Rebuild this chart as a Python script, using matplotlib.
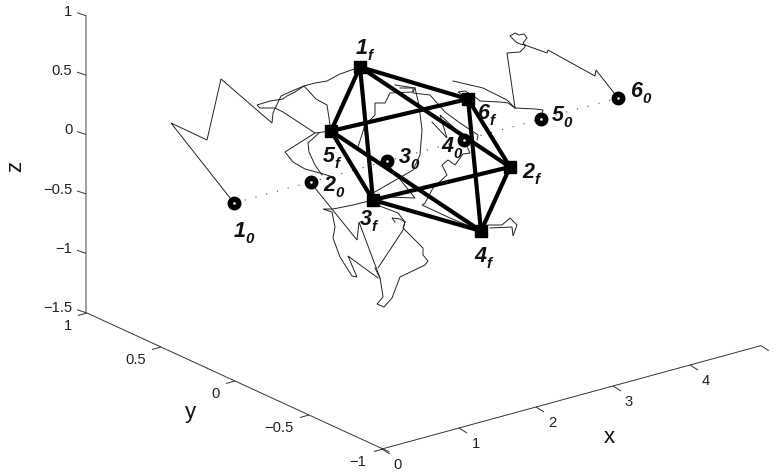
import matplotlib
matplotlib.use("Agg")
import matplotlib.pyplot as plt
import matplotlib._mathtext as _mt

plt.rcParams["mathtext.fontset"] = "custom"
plt.rcParams["mathtext.bfit"] = "Liberation Sans:italic:bold"
plt.rcParams["mathtext.rm"] = "Liberation Sans"
_mt.FontConstantsBase.sub1 = 0.52  # lower the subscripts as in the reference

W, H = 780, 473

# Projection of the box corner and axis directions (screen pixels per unit)
ORIGIN_X = (382, 449)
X_STEP = (77, -21)
Y_ORIGIN = (235, 381)
Y_STEP = (-148, -68)
Z_X = 86
Z_ZERO = 134.5
Z_STEP = -118.8

x_ticks = [0, 1, 2, 3, 4]
x_tick_text = ["0", "1", "2", "3", "4"]
x_tick_label_pos = [(398, 465), (476, 444), (552, 423), (629, 402), (706, 381)]
y_ticks = [1, 0.5, 0, -0.5, -1]
y_tick_text = ["1", "0.5", "0", "\u22120.5", "\u22121"]
y_tick_label_pos = [(68, 326), (136, 360), (216, 394), (279, 428), (358, 462)]
z_ticks = [1, 0.5, 0, -0.5, -1, -1.5]
z_tick_text = ["1", "0.5", "0", "\u22120.5", "\u22121", "\u22121.5"]
z_tick_label_y = [12, 71, 130, 190, 249, 308]

start_pts = [(234, 203), (311, 182), (387, 161), (464, 140), (541, 119), (618, 98)]
final_pts = [(360, 67), (510, 167), (373, 200), (481, 231), (331, 131), (468, 99)]
edges = [(1, 2), (1, 3), (1, 5), (1, 6), (2, 3), (2, 4), (2, 6),
         (3, 4), (3, 5), (4, 5), (4, 6), (5, 6)]

# Centre of each "digit + subscript" label
start_labels = [(244, 233), (334, 187), (409, 159), (452, 148), (562, 117), (641, 93)]
final_labels = [(365, 50), (532, 174), (369, 221), (484, 258), (332, 158), (487, 115)]

paths = [
    [(234, 203), (171, 123), (207, 140), (221, 79), (272, 123), (273, 113), (281, 96), (292, 91),
     (304, 86), (316, 99), (327, 105), (329, 118), (331, 131)],
    [(360, 67), (340, 74), (327, 81), (315, 83), (304, 86), (295, 92), (287, 96), (283, 99),
     (270, 101), (257, 105), (260, 108), (275, 108), (283, 112), (315, 133)],
    [(331, 131), (315, 133), (285, 152), (293, 162), (305, 169), (320, 173), (333, 177)],
    [(319, 133), (308, 143), (309, 152), (315, 165), (322, 175)],
    [(311, 182), (315, 188), (357, 240), (359, 222), (380, 278)],
    [(373, 200), (353, 205), (333, 209), (323, 209), (332, 212), (335, 227), (333, 238),
     (340, 257), (352, 276), (357, 277), (348, 256), (378, 278)],
    [(377, 205), (398, 213), (405, 222), (403, 230), (378, 268)],
    [(395, 222), (392, 218), (400, 219), (405, 222), (403, 228), (423, 248), (423, 255), (428, 261),
     (425, 265), (400, 277), (392, 298), (384, 307), (377, 304), (383, 297), (382, 290),
     (380, 278), (375, 268)],
    [(373, 193), (413, 170), (420, 155), (422, 130), (419, 105), (415, 88), (395, 85)],
    [(358, 147), (365, 125), (375, 115), (375, 103), (385, 103), (390, 93), (413, 92), (415, 88)],
    [(400, 88), (413, 88), (413, 93), (430, 95), (445, 112), (460, 123), (478, 135), (477, 140)],
    [(432, 122), (447, 138), (440, 115), (462, 135)],
    [(453, 81), (483, 88), (507, 100), (515, 108)],
    [(468, 99), (458, 92), (465, 91), (475, 97), (480, 101), (500, 102), (508, 103), (515, 108),
     (535, 109), (543, 110), (541, 119)],
    [(515, 108), (507, 53), (520, 52), (525, 47), (525, 45), (520, 44), (516, 42), (510, 36),
     (515, 33), (519, 35), (524, 34), (527, 38), (523, 43), (525, 45),
     (547, 53), (548, 50), (595, 76), (596, 70), (618, 98)],
    [(481, 231), (488, 225), (502, 225), (510, 218), (517, 225), (513, 236), (512, 227), (490, 228)],
    [(464, 140), (470, 153), (463, 154), (455, 165), (448, 160), (442, 165), (447, 175),
     (433, 188), (425, 203), (422, 205), (450, 218), (481, 231)],
    [(387, 161), (390, 167), (415, 198), (388, 197)],
]

fig = plt.figure(figsize=(W / 100, H / 100), dpi=100)
ax = fig.add_axes([0, 0, 1, 1])
ax.set_xlim(0, W)
ax.set_ylim(H, 0)
ax.axis("off")

FONT = "Liberation Sans"
TC = "#222222"


def seg(p, dx, dy, **kw):
    ax.plot([p[0], p[0] + dx], [p[1], p[1] + dy], color=kw.pop("color", "#333333"),
            lw=kw.pop("lw", 0.7), solid_capstyle="butt", **kw)


# Axes
z_px = [Z_ZERO + Z_STEP * v for v in z_ticks]
ax.plot([Z_X, Z_X], [z_px[0], z_px[-1]], color="#888888", lw=1.1)
y_end = (Y_ORIGIN[0] + Y_STEP[0] * -1.04, Y_ORIGIN[1] + Y_STEP[1] * -1.04)
y_start = (Y_ORIGIN[0] + Y_STEP[0], Y_ORIGIN[1] + Y_STEP[1])
ax.plot([y_start[0], y_end[0]], [y_start[1], y_end[1]], color="#333333", lw=0.7)
x_end = (ORIGIN_X[0] + X_STEP[0] * 4.92, ORIGIN_X[1] + X_STEP[1] * 4.92)
ax.plot([ORIGIN_X[0], x_end[0]], [ORIGIN_X[1], x_end[1]], color="#333333", lw=0.7)
seg(x_end, 8, 5)

for v, s, yy in zip(z_ticks, z_tick_text, z_tick_label_y):
    py = Z_ZERO + Z_STEP * v
    seg((Z_X, py), -9, -3)
    ax.text(72.5, yy, s, ha="right", va="center", fontsize=10.6, family=FONT, color=TC)
for v, s, pos in zip(y_ticks, y_tick_text, y_tick_label_pos):
    p = (Y_ORIGIN[0] + Y_STEP[0] * v, Y_ORIGIN[1] + Y_STEP[1] * v)
    seg(p, -9, 2.5)
    ax.text(pos[0], pos[1], s, ha="center", va="center", fontsize=10.6, family=FONT, color=TC)
for v, s, pos in zip(x_ticks, x_tick_text, x_tick_label_pos):
    p = (ORIGIN_X[0] + X_STEP[0] * v, ORIGIN_X[1] + X_STEP[1] * v)
    seg(p, 8, 5)
    ax.text(pos[0], pos[1], s, ha="center", va="center", fontsize=10.6, family=FONT, color=TC)

ax.text(609, 437, "x", ha="center", va="center", fontsize=16, family=FONT, color="#111111")
ax.text(190, 412, "y", ha="center", va="center", fontsize=16, family=FONT, color="#111111")
ax.text(16, 166, "z", ha="center", va="center", fontsize=16, family=FONT, color="#111111", rotation=90)

# Trajectories
for path in paths:
    ax.plot([p[0] for p in path], [p[1] for p in path], color="#222222", lw=0.7,
            solid_joinstyle="miter", zorder=2)

# Dotted line through starting points
ax.plot([p[0] for p in start_pts], [p[1] for p in start_pts], color="#444444", lw=0.8,
        linestyle=(0, (1, 9)), zorder=2)

# Thick octahedron edges
for a, b in edges:
    pa, pb = final_pts[a - 1], final_pts[b - 1]
    ax.plot([pa[0], pb[0]], [pa[1], pb[1]], color="black", lw=3.0, zorder=3,
            solid_capstyle="round")

ax.plot([p[0] for p in final_pts], [p[1] for p in final_pts], ls="none", marker="s",
        ms=8.6, color="black", zorder=4)
ax.plot([p[0] for p in start_pts], [p[1] for p in start_pts], ls="none", marker="o",
        ms=6.0, mfc="white", mec="black", mew=4.0, zorder=4)

# Point labels
for i, pos in enumerate(start_labels):
    ax.text(pos[0], pos[1], rf"$\mathbfit{{{i + 1}}}_{{\mathbfit{{0}}}}$", ha="center", va="center",
            fontsize=15.5, color="#111111", zorder=5)
for i, pos in enumerate(final_labels):
    ax.text(pos[0], pos[1], rf"$\mathbfit{{{i + 1}}}_{{\mathbfit{{f}}}}$", ha="center", va="center",
            fontsize=15.5, color="#111111", zorder=5)

fig.savefig("out.png", dpi=100, facecolor="white")
